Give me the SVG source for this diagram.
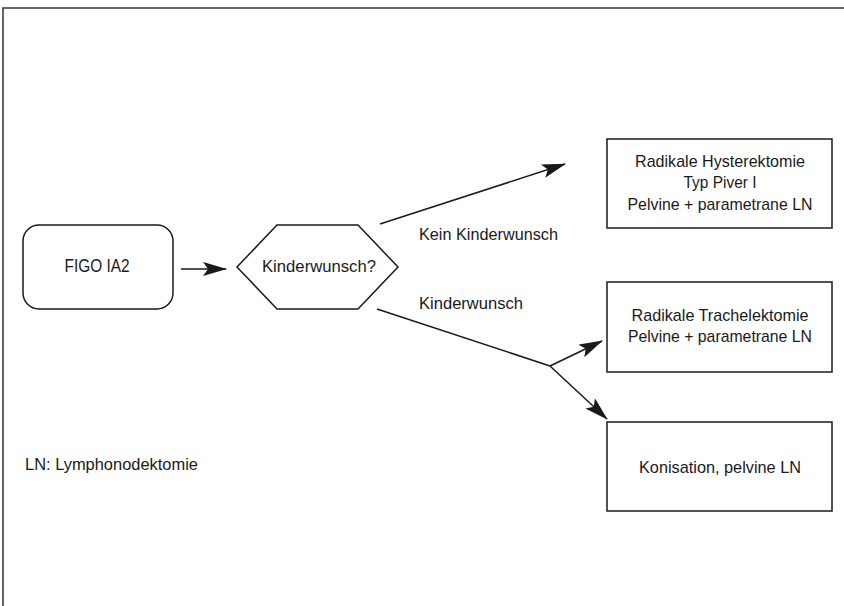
<svg xmlns="http://www.w3.org/2000/svg" width="844" height="606" viewBox="0 0 844 606">
<style>
text{font-family:"Liberation Sans",Arial,sans-serif;font-size:17px;fill:#1a1a1a}
.big{font-size:18px}
.box{fill:#fff;stroke:#1a1a1a;stroke-width:1.5}
.ln{fill:none;stroke:#1a1a1a;stroke-width:1.5}
.frame{fill:none;stroke:#333;stroke-width:1.5}
</style>
<defs>
<marker id="ah" viewBox="0 0 24 14" refX="23" refY="7" markerWidth="24" markerHeight="14" markerUnits="userSpaceOnUse" orient="auto">
<path d="M0,0 L24,7 L0,14 L5,7 Z" fill="#1a1a1a"/>
</marker>
</defs>
<rect class="frame" x="3" y="8" width="900" height="700"/>
<g id="figo">
<rect class="box" x="23" y="225" width="150" height="84" rx="16"/>
<text class="big" x="97" y="272" text-anchor="middle" textLength="65" lengthAdjust="spacingAndGlyphs">FIGO IA2</text>
</g>
<g id="kinderwunsch">
<polygon class="box" points="237,267 277,225 358,225 398,267 358,309 277,309"/>
<text x="319" y="272" text-anchor="middle" textLength="114" lengthAdjust="spacingAndGlyphs">Kinderwunsch?</text>
</g>
<g id="hysterektomie">
<rect class="box" x="607" y="139" width="225" height="89"/>
<text x="720" y="167" text-anchor="middle" textLength="170" lengthAdjust="spacingAndGlyphs">Radikale Hysterektomie</text>
<text x="720" y="188" text-anchor="middle" textLength="73" lengthAdjust="spacingAndGlyphs">Typ Piver I</text>
<text x="720" y="210" text-anchor="middle" textLength="185" lengthAdjust="spacingAndGlyphs">Pelvine + parametrane LN</text>
</g>
<g id="trachelektomie">
<rect class="box" x="607" y="282" width="225" height="90"/>
<text x="720" y="321" text-anchor="middle" textLength="177" lengthAdjust="spacingAndGlyphs">Radikale Trachelektomie</text>
<text x="720" y="342" text-anchor="middle" textLength="184" lengthAdjust="spacingAndGlyphs">Pelvine + parametrane LN</text>
</g>
<g id="konisation">
<rect class="box" x="607" y="422" width="225" height="89"/>
<text x="720" y="473" text-anchor="middle" textLength="162" lengthAdjust="spacingAndGlyphs">Konisation, pelvine LN</text>
</g>
<g id="legend">
<text x="25" y="470" textLength="173" lengthAdjust="spacingAndGlyphs">LN: Lymphonodektomie</text>
</g>
<g id="connectors">
<line class="ln" x1="181" y1="269" x2="226" y2="269" marker-end="url(#ah)"/>
<line class="ln" x1="380" y1="224" x2="565" y2="164" marker-end="url(#ah)"/>
<polyline class="ln" points="377,309 550,366"/>
<line class="ln" x1="550" y1="366" x2="602" y2="341" marker-end="url(#ah)"/>
<line class="ln" x1="550" y1="366" x2="607" y2="419" marker-end="url(#ah)"/>
<text x="419" y="240" textLength="139" lengthAdjust="spacingAndGlyphs">Kein Kinderwunsch</text>
<text x="419" y="309" textLength="104" lengthAdjust="spacingAndGlyphs">Kinderwunsch</text>
</g>
</svg>
